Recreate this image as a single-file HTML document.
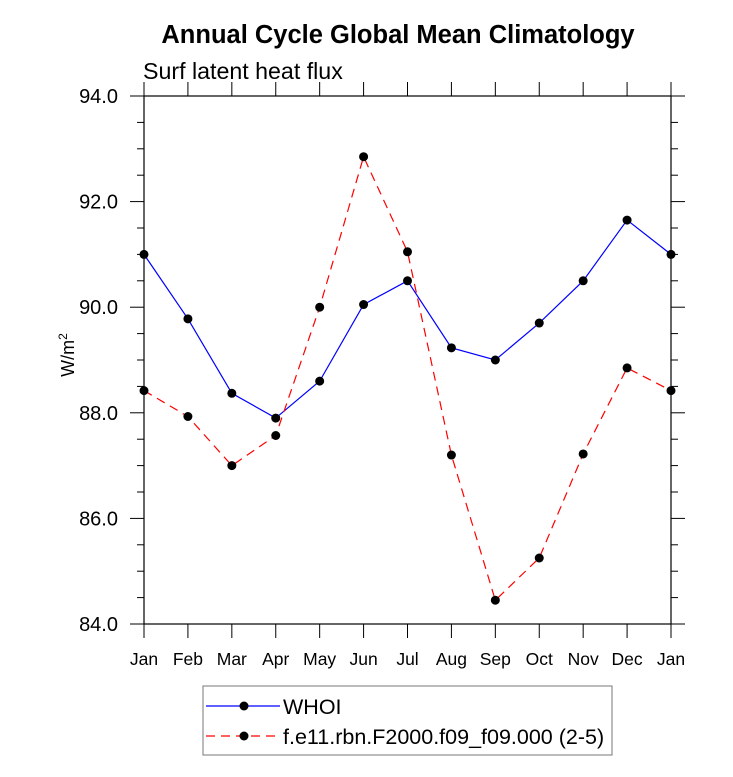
<!DOCTYPE html>
<html><head><meta charset="utf-8"><style>
body{margin:0;background:#fff}
svg{display:block;font-family:"Liberation Sans",sans-serif}
</style></head><body>
<svg id="chart" width="733" height="777" xmlns="http://www.w3.org/2000/svg">
<text x="398" y="43" text-anchor="middle" font-size="25.5" font-weight="bold">Annual Cycle Global Mean Climatology</text>
<text x="143" y="79" font-size="23.2">Surf latent heat flux</text>
<text transform="translate(74,355) rotate(-90)" text-anchor="middle" font-size="18">W/m<tspan dy="-7" font-size="12">2</tspan></text>
<g id="axes"></g>
<g id="series"></g>
<g>
<rect x="203" y="686" width="409" height="69" fill="none" stroke="#777" stroke-width="1"/>
<g>
<line x1="206" y1="706" x2="280" y2="706" stroke="#00f" stroke-width="1.2"/>
<circle cx="244" cy="706" r="4.5" fill="#000"/>
<text x="283" y="714" font-size="21.5">WHOI</text></g>
<g>
<line x1="206" y1="736" x2="280" y2="736" stroke="#f00" stroke-width="1.2" stroke-dasharray="9,6"/>
<circle cx="244" cy="736" r="4.5" fill="#000"/>
<text x="283" y="744" font-size="21.5">f.e11.rbn.F2000.f09_f09.000 (2-5)</text></g>
</g>
</svg>
<script>
const months=["Jan","Feb","Mar","Apr","May","Jun","Jul","Aug","Sep","Oct","Nov","Dec","Jan"];
const whoi=[91.0,89.78,88.37,87.9,88.6,90.05,90.5,89.23,89.0,89.7,90.5,91.65,91.0];
const model=[88.42,87.93,87.0,87.57,90.0,92.85,91.05,87.2,84.45,85.25,87.22,88.85,88.42];
const yTicks=[84,86,88,90,92,94];
const yLabels=["84.0","86.0","88.0","90.0","92.0","94.0"];
const L=144,R=671,T=96,B=624,ymin=84,ymax=94;
const X=i=>L+(R-L)*i/(months.length-1);
const Y=v=>B-(v-ymin)/(ymax-ymin)*(B-T);
const NS="http://www.w3.org/2000/svg";
function mk(t,a,p){const e=document.createElementNS(NS,t);for(const k in a)e.setAttribute(k,a[k]);p.appendChild(e);return e;}
const ax=document.getElementById('axes');
const fr=mk('rect',{x:L,y:T,width:R-L,height:B-T,fill:'none',stroke:'#000','stroke-width':1.2},ax);


months.forEach((m,i)=>{
  const x=X(i);
  mk('line',{x1:x,y1:B,x2:x,y2:B+14,stroke:'#000','stroke-width':1},ax);
  mk('line',{x1:x,y1:T,x2:x,y2:T-14,stroke:'#000','stroke-width':1},ax);
  const t=mk('text',{x:x,y:B+41,'text-anchor':'middle','font-size':17.5},ax);
  t.textContent=m;
  
  
});
for(let v=ymin;v<=ymax+1e-9;v+=0.5){
  const y=Y(v),major=Math.abs(v/2-Math.round(v/2))<1e-6;
  const len=major?14:7;
  mk('line',{x1:L-len,y1:y,x2:L,y2:y,stroke:'#000','stroke-width':1},ax);
  mk('line',{x1:R,y1:y,x2:R+len,y2:y,stroke:'#000','stroke-width':1},ax);
}
yTicks.forEach((v,i)=>{
  const t=mk('text',{x:118,y:Y(v)+7,'text-anchor':'end','font-size':20},ax);
  t.textContent=yLabels[i];
  
  
});
const sg=document.getElementById('series');
function draw(vals,color,dash,name){
  const g=mk('g',{},sg);
  
  
  const pl=mk('polyline',{points:vals.map((v,i)=>X(i)+','+Y(v)).join(' '),fill:'none',stroke:color,'stroke-width':1.2},g);
  if(dash)pl.setAttribute('stroke-dasharray',dash);
  vals.forEach((v,i)=>{
    const c=mk('circle',{cx:X(i),cy:Y(v),r:4.5,fill:'#000'},g);
    
    
  });
}
draw(whoi,'#00f',null,'whoi-series');
draw(model,'#f00','9,6','model-series');
</script>
</body></html>
